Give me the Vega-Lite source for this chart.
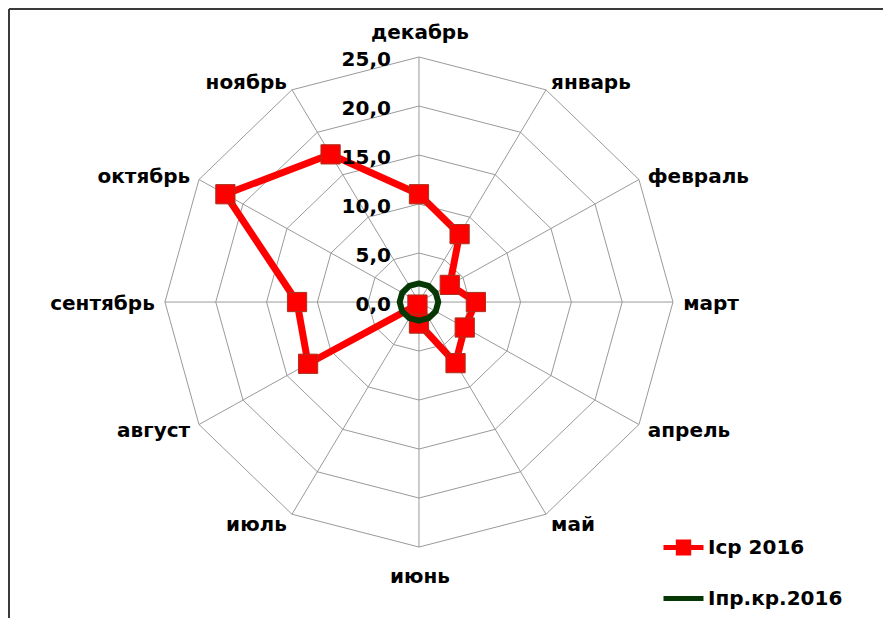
{
  "$schema": "https://vega.github.io/schema/vega-lite/v6.json",
  "width": 874,
  "height": 609,
  "padding": {"left": 9, "top": 9, "right": 0, "bottom": 0},
  "autosize": {"type": "none"},
  "background": "white",
  "config": {
    "view": {"stroke": null},
    "font": "DejaVu Sans",
    "text": {"font": "DejaVu Sans", "fontSize": 20, "fontWeight": "bold", "color": "#000000"}
  },
  "datasets": {
    "months": [
      {"m": "декабрь", "i": 0, "lv": [5, 10, 15, 20, 25]},
      {"m": "январь", "i": 1, "lv": [5, 10, 15, 20, 25]},
      {"m": "февраль", "i": 2, "lv": [5, 10, 15, 20, 25]},
      {"m": "март", "i": 3, "lv": [5, 10, 15, 20, 25]},
      {"m": "апрель", "i": 4, "lv": [5, 10, 15, 20, 25]},
      {"m": "май", "i": 5, "lv": [5, 10, 15, 20, 25]},
      {"m": "июнь", "i": 6, "lv": [5, 10, 15, 20, 25]},
      {"m": "июль", "i": 7, "lv": [5, 10, 15, 20, 25]},
      {"m": "август", "i": 8, "lv": [5, 10, 15, 20, 25]},
      {"m": "сентябрь", "i": 9, "lv": [5, 10, 15, 20, 25]},
      {"m": "октябрь", "i": 10, "lv": [5, 10, 15, 20, 25]},
      {"m": "ноябрь", "i": 11, "lv": [5, 10, 15, 20, 25]}
    ],
    "ticks": [
      {"t": 0, "lab": "0,0"},
      {"t": 5, "lab": "5,0"},
      {"t": 10, "lab": "10,0"},
      {"t": 15, "lab": "15,0"},
      {"t": 20, "lab": "20,0"},
      {"t": 25, "lab": "25,0"}
    ],
    "series": [
      {"m": "декабрь", "i": 0, "s": "Iср 2016", "v": 11.0},
      {"m": "январь", "i": 1, "s": "Iср 2016", "v": 8.0},
      {"m": "февраль", "i": 2, "s": "Iср 2016", "v": 3.5},
      {"m": "март", "i": 3, "s": "Iср 2016", "v": 5.6},
      {"m": "апрель", "i": 4, "s": "Iср 2016", "v": 5.2},
      {"m": "май", "i": 5, "s": "Iср 2016", "v": 7.2},
      {"m": "июнь", "i": 6, "s": "Iср 2016", "v": 2.2},
      {"m": "июль", "i": 7, "s": "Iср 2016", "v": 0.3},
      {"m": "август", "i": 8, "s": "Iср 2016", "v": 12.6},
      {"m": "сентябрь", "i": 9, "s": "Iср 2016", "v": 12.0},
      {"m": "октябрь", "i": 10, "s": "Iср 2016", "v": 22.0},
      {"m": "ноябрь", "i": 11, "s": "Iср 2016", "v": 17.4},
      {"m": "декабрь", "i": 0, "s": "Iпр.кр.2016", "v": 1.9},
      {"m": "январь", "i": 1, "s": "Iпр.кр.2016", "v": 1.9},
      {"m": "февраль", "i": 2, "s": "Iпр.кр.2016", "v": 1.9},
      {"m": "март", "i": 3, "s": "Iпр.кр.2016", "v": 1.9},
      {"m": "апрель", "i": 4, "s": "Iпр.кр.2016", "v": 1.9},
      {"m": "май", "i": 5, "s": "Iпр.кр.2016", "v": 1.9},
      {"m": "июнь", "i": 6, "s": "Iпр.кр.2016", "v": 1.9},
      {"m": "июль", "i": 7, "s": "Iпр.кр.2016", "v": 1.9},
      {"m": "август", "i": 8, "s": "Iпр.кр.2016", "v": 1.9},
      {"m": "сентябрь", "i": 9, "s": "Iпр.кр.2016", "v": 1.9},
      {"m": "октябрь", "i": 10, "s": "Iпр.кр.2016", "v": 1.9},
      {"m": "ноябрь", "i": 11, "s": "Iпр.кр.2016", "v": 1.9}
    ]
  },
  "encoding": {
    "x": {"field": "x", "type": "quantitative", "scale": {"domain": [-40.35, 45.67], "nice": false, "zero": false}, "axis": null},
    "y": {"field": "y", "type": "quantitative", "scale": {"domain": [-32.24, 29.9], "nice": false, "zero": false}, "axis": null}
  },
  "layer": [
    {
      "data": {"name": "ticks"},
      "transform": [
        {"filter": "datum.t === 25"},
        {"calculate": "-40.35", "as": "x"},
        {"calculate": "29.9", "as": "y"},
        {"calculate": "-32.24", "as": "y2"}
      ],
      "mark": {"type": "rule", "stroke": "#3a3a3a", "strokeWidth": 2},
      "encoding": {"y2": {"field": "y2"}}
    },
    {
      "data": {"name": "ticks"},
      "transform": [
        {"filter": "datum.t === 25"},
        {"calculate": "-40.35", "as": "x"},
        {"calculate": "46.5", "as": "x2"},
        {"calculate": "29.9", "as": "y"}
      ],
      "mark": {"type": "rule", "stroke": "#3a3a3a", "strokeWidth": 2},
      "encoding": {"x2": {"field": "x2"}}
    },
    {
      "data": {"name": "months"},
      "transform": [
        {"flatten": ["lv"]},
        {"calculate": "datum.lv*sin(datum.i*PI/6)", "as": "x"},
        {"calculate": "datum.lv*cos(datum.i*PI/6)", "as": "y"}
      ],
      "mark": {"type": "line", "interpolate": "linear-closed", "stroke": "#9a9a9a", "strokeWidth": 1},
      "encoding": {"detail": {"field": "lv"}, "order": {"field": "i", "type": "quantitative"}}
    },
    {
      "data": {"name": "months"},
      "transform": [
        {"calculate": "25*sin(datum.i*PI/6)", "as": "x"},
        {"calculate": "25*cos(datum.i*PI/6)", "as": "y"}
      ],
      "mark": {"type": "rule", "stroke": "#9a9a9a", "strokeWidth": 1},
      "encoding": {"x2": {"datum": 0}, "y2": {"datum": 0}}
    },
    {
      "data": {"name": "series"},
      "transform": [
        {"filter": "datum.s === 'Iср 2016'"},
        {"calculate": "datum.v*sin(datum.i*PI/6)", "as": "x"},
        {"calculate": "datum.v*cos(datum.i*PI/6)", "as": "y"}
      ],
      "mark": {"type": "line", "interpolate": "linear-closed", "strokeWidth": 7, "strokeJoin": "round"},
      "encoding": {
        "order": {"field": "i", "type": "quantitative"},
        "color": {
          "field": "s", "type": "nominal",
          "scale": {"domain": ["Iср 2016", "Iпр.кр.2016"], "range": ["#ff0000", "#063806"]},
          "legend": {
            "orient": "none", "legendX": 652, "legendY": 516, "title": null,
            "symbolSize": 1600, "symbolStrokeWidth": 5, "symbolType": "stroke",
            "labelFont": "DejaVu Sans", "labelFontSize": 20, "labelFontWeight": "bold", "labelColor": "#000000",
            "labelOffset": 2, "rowPadding": 12, "padding": 0, "offset": 0,
            "encode": {
              "symbols": {
                "update": {
                  "shape": {"signal": "datum.value === 'Iср 2016' ? 'M-1,0H1M-0.26,-0.28H0.26V0.28H-0.26Z' : 'stroke'"},
                  "fill": {"signal": "datum.value === 'Iср 2016' ? '#ff0000' : 'transparent'"}
                }
              }
            }
          }
        }
      }
    },
    {
      "data": {"name": "series"},
      "transform": [
        {"filter": "datum.s === 'Iср 2016'"},
        {"calculate": "datum.v*sin(datum.i*PI/6)", "as": "x"},
        {"calculate": "datum.v*cos(datum.i*PI/6)", "as": "y"}
      ],
      "mark": {"type": "point", "shape": "square", "filled": true, "size": 370, "fill": "#ff0000", "stroke": "#a8321e", "strokeWidth": 1, "opacity": 1}
    },
    {
      "data": {"name": "series"},
      "transform": [
        {"filter": "datum.s === 'Iпр.кр.2016'"},
        {"calculate": "datum.v*sin(datum.i*PI/6)", "as": "x"},
        {"calculate": "datum.v*cos(datum.i*PI/6)", "as": "y"}
      ],
      "mark": {"type": "line", "interpolate": "linear-closed", "strokeWidth": 6, "strokeJoin": "round"},
      "encoding": {
        "order": {"field": "i", "type": "quantitative"},
        "color": {"field": "s", "type": "nominal"}
      }
    },
    {
      "data": {"name": "ticks"},
      "transform": [
        {"calculate": "0", "as": "x"},
        {"calculate": "datum.t", "as": "y"}
      ],
      "mark": {"type": "text", "align": "right", "baseline": "middle", "dx": -28, "dy": 3},
      "encoding": {"text": {"field": "lab"}}
    },
    {
      "data": {"name": "months"},
      "transform": [
        {"filter": "datum.i === 0 || datum.i === 6"},
        {"calculate": "0", "as": "x"},
        {"calculate": "datum.i === 0 ? 27.5 : -28.1", "as": "y"}
      ],
      "mark": {"type": "text", "align": "center", "baseline": "middle", "dx": 1},
      "encoding": {"text": {"field": "m"}}
    },
    {
      "data": {"name": "months"},
      "transform": [
        {"filter": "datum.i >= 1 && datum.i <= 5"},
        {"calculate": "26*sin(datum.i*PI/6)", "as": "x"},
        {"calculate": "26*cos(datum.i*PI/6)", "as": "y"}
      ],
      "mark": {"type": "text", "align": "left", "baseline": "middle", "dy": 2},
      "encoding": {"text": {"field": "m"}}
    },
    {
      "data": {"name": "months"},
      "transform": [
        {"filter": "datum.i >= 7 && datum.i <= 11"},
        {"calculate": "26*sin(datum.i*PI/6)", "as": "x"},
        {"calculate": "26*cos(datum.i*PI/6)", "as": "y"}
      ],
      "mark": {"type": "text", "align": "right", "baseline": "middle", "dy": 2},
      "encoding": {"text": {"field": "m"}}
    }
  ]
}
